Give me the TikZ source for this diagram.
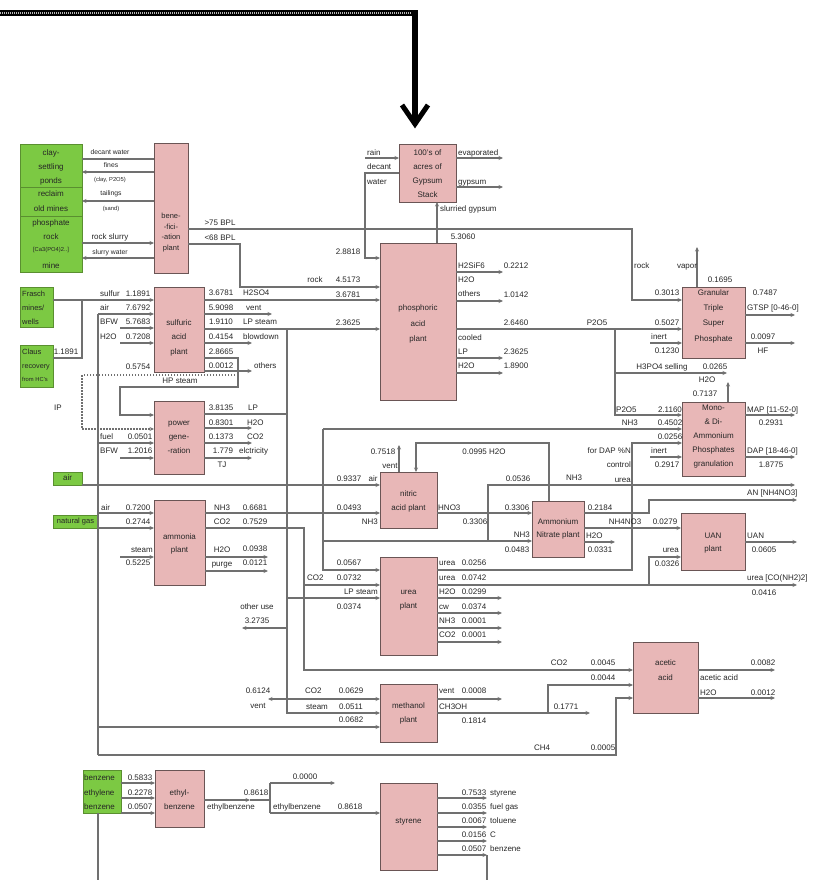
\documentclass[tikz,border=0pt]{standalone}
\usepackage{fontspec}
\setmainfont{Liberation Sans}
\usetikzlibrary{arrows.meta}
\definecolor{pinkf}{HTML}{E8B7B7}
\definecolor{pinkd}{HTML}{6A5555}
\definecolor{greenf}{HTML}{7CC943}
\definecolor{greend}{HTML}{5A8F30}
\definecolor{lineg}{HTML}{707070}
\definecolor{txt}{HTML}{262626}
\newcounter{lbc}
\newcommand\mylab[3][]{\stepcounter{lbc}\node[lb,#1] (lab\thelbc) at (#2) {#3};}
\begin{document}
\begin{tikzpicture}[x=1pt,y=-1pt,
 ln/.style={draw=lineg, line width=1.1pt},
 ar/.style={ln, -{Stealth[length=4.5pt,width=4pt]}},
 dt/.style={draw=lineg, line width=1.1pt, dash pattern=on 1.5pt off 1.5pt},
 lb/.style={inner sep=0pt, text=txt, font=\fontsize{8}{9}\selectfont, text height=5.8pt, text depth=1.6pt},
 sm/.style={font=\fontsize{6.8}{7.5}\selectfont, text height=4.9pt, text depth=1.4pt},
 xs/.style={font=\fontsize{5.8}{6.5}\selectfont, text height=4.2pt, text depth=1.2pt},
 bt/.style={inner sep=0pt, text=txt, align=center, font=\fontsize{8}{#1}\selectfont},
 bt/.default=14,
 pbox/.style={draw=pinkd, fill=pinkf, line width=0.8pt, inner sep=0pt, outer sep=0pt, anchor=north west},
 gbox/.style={draw=greend, fill=greenf, line width=0.6pt, inner sep=0pt, outer sep=0pt, anchor=north west},
]
\path[use as bounding box] (0,0) rectangle (821,880);

% ---------------- boxes ----------------
\node[gbox,minimum width=62,minimum height=43] (clay) at (20,144) {};
\node[gbox,minimum width=62,minimum height=29] (reclaim) at (20,187) {};
\node[gbox,minimum width=62,minimum height=56] (mine) at (20,216) {};
\node[gbox,minimum width=33,minimum height=40] (frasch) at (20,287) {};
\node[gbox,minimum width=33,minimum height=42] (claus) at (20,345) {};
\node[gbox,minimum width=29,minimum height=13] (airg) at (53,472) {};
\node[gbox,minimum width=45,minimum height=13] (natg) at (53,515) {};
\node[gbox,minimum width=38,minimum height=43] (ethg) at (83,770) {};
\node[pbox,minimum width=34,minimum height=130] (bene) at (154,143) {};
\node[pbox,minimum width=50,minimum height=85] (sulf) at (154,287) {};
\node[pbox,minimum width=50,minimum height=73] (power) at (154,401) {};
\node[pbox,minimum width=57,minimum height=58] (gyp) at (399,144) {};
\node[pbox,minimum width=76,minimum height=157] (phos) at (380,243) {};
\node[pbox,minimum width=63,minimum height=71] (gtsp) at (682,287) {};
\node[pbox,minimum width=63,minimum height=74] (mono) at (682,402) {};
\node[pbox,minimum width=51,minimum height=85] (ammonia) at (154,500) {};
\node[pbox,minimum width=57,minimum height=56] (nitric) at (380,472) {};
\node[pbox,minimum width=52,minimum height=56] (an) at (532,501) {};
\node[pbox,minimum width=64,minimum height=57] (uan) at (681,513) {};
\node[pbox,minimum width=57,minimum height=98] (urea) at (380,557) {};
\node[pbox,minimum width=57,minimum height=58] (meth) at (380,684) {};
\node[pbox,minimum width=65,minimum height=71] (acetic) at (633,642) {};
\node[pbox,minimum width=49,minimum height=57] (ethyl) at (155,770) {};
\node[pbox,minimum width=57,minimum height=87] (styr) at (380,783) {};

% ---------------- box texts ----------------
\node[bt] (tclay) at (51,167) {clay-\\settling\\ponds};
\node[bt=15] (trecl) at (51,201.5) {reclaim\\old mines};
\mylab{51,223}{phosphate}
\mylab{51,237}{rock}
\mylab[xs]{51,250}{[Ca3(PO4)2..]}
\mylab{51,266}{mine}
\mylab[anchor=west,font=\fontsize{7.5}{8}\selectfont]{22,294}{Frasch}
\mylab[anchor=west,font=\fontsize{7.5}{8}\selectfont]{22,308}{mines/}
\mylab[anchor=west,font=\fontsize{7.5}{8}\selectfont]{22,322}{wells}
\mylab[anchor=west,font=\fontsize{7.5}{8}\selectfont]{22,352}{Claus}
\mylab[anchor=west,font=\fontsize{7.2}{8}\selectfont]{22,366}{recovery}
\mylab[anchor=west,xs]{22,380}{from HC's}
\mylab{67.5,478.5}{air}
\mylab[font=\fontsize{7.5}{8}\selectfont]{75.5,521.5}{natural gas}
\mylab[anchor=west]{84,778}{benzene}
\mylab[anchor=west]{84,793}{ethylene}
\mylab[anchor=west]{84,807}{benzene}
\node[bt, font=\fontsize{7.5}{10.5}\selectfont] (tbene) at (171,232.5) {bene-\\-fici-\\-ation\\plant};
\node[bt=14.5] (tsulf) at (179,337.5) {sulfuric\\acid\\plant};
\node[bt] (tpower) at (179,437) {power\\gene-\\-ration};
\node[bt] (tgyp) at (427.5,174) {100's of\\acres of\\Gypsum\\Stack};
\node[bt=15.5] (tphos) at (418,324) {phosphoric\\acid\\plant};
\node[bt=15.3] (tgtsp) at (713.5,316) {Granular\\Triple\\Super\\Phosphate};
\node[bt] (tmono) at (713.5,437) {Mono-\\\& Di-\\Ammonium\\Phosphates\\granulation};
\node[bt=13] (tammo) at (179.5,543.5) {ammonia\\plant};
\node[bt] (tnit) at (408.5,501) {nitric\\acid plant};
\node[bt=12.5] (tan) at (558,529) {Ammonium\\Nitrate plant};
\node[bt=13] (tuan) at (713,543.5) {UAN\\plant};
\node[bt] (turea) at (408.5,600) {urea\\plant};
\node[bt] (tmeth) at (408.5,713) {methanol\\plant};
\node[bt=15] (tacet) at (665.5,670.5) {acetic\\acid};
\node[bt] (tethyl) at (179.5,800) {ethyl-\\benzene};
\node[bt] (tstyr) at (408.5,822) {styrene};

% ---------------- connectors ----------------
% beneficiation
\draw[ln] (bene.west |- 0,159) -- (clay.east |- 0,159);
\draw[ar] (bene.west |- 0,172) -- (clay.east |- 0,172);
\draw[ar] (bene.west |- 0,201) -- (reclaim.east |- 0,201);
\draw[ar] (mine.east |- 0,243) -- (bene.west |- 0,243);
\draw[ar] (bene.west |- 0,258) -- (mine.east |- 0,258);
\draw[ar] (bene.east |- 0,229) -- (632,229) -- (632,300) -- (gtsp.west |- 0,300);
\draw[ar] (bene.east |- 0,244) -- (240,244) -- (240,287) -- (phos.west |- 0,287);
% gypsum
\draw[ar] (365,158) -- (gyp.west |- 0,158);
\draw[ar] (gyp.west |- 0,173) -- (365,173) -- (365,258) -- (phos.west |- 0,258);
\draw[ar] (gyp.east |- 0,158) -- (503,158);
\draw[ar] (gyp.east |- 0,187) -- (503,187);
\draw[ar] (phos.north -| 437,0) -- (gyp.south -| 437,0);
% phosphoric outputs
\draw[ar] (phos.east |- 0,272) -- (503,272);
\draw[ar] (phos.east |- 0,301) -- (503,301);
\draw[ar] (phos.east |- 0,329) -- (gtsp.west |- 0,329);
\draw[ar] (phos.east |- 0,358) -- (503,358);
\draw[ar] (phos.east |- 0,373) -- (503,373);
% sulfuric
\draw[ar] (frasch.east |- 0,300) -- (sulf.west |- 0,300);
\draw[ln] (claus.east |- 0,358) -- (82,358) -- (82,300);
\draw[ar] (98,314) -- (sulf.west |- 0,314);
\draw[ar] (120,328) -- (sulf.west |- 0,328);
\draw[ar] (120,343) -- (sulf.west |- 0,343);
\draw[ar] (sulf.east |- 0,300) -- (phos.west |- 0,300);
\draw[ar] (sulf.east |- 0,314) -- (272,314);
\draw[ar] (sulf.east |- 0,329) -- (phos.west |- 0,329);
\draw[ar] (sulf.east |- 0,343) -- (252,343);
\draw[ar] (sulf.east |- 0,358) -- (238,358) -- (238,387) -- (120,387) -- (120,415) -- (power.west |- 0,415);
\draw[ar] (sulf.east |- 0,371) -- (252,371);
\draw[dt, -{Stealth[length=4.5pt,width=4pt]}] (238,375) -- (82,375) -- (82,429) -- (power.west |- 0,429);
% power generation
\draw[ln] (power.east |- 0,414) -- (287,414);
\draw[ar] (power.east |- 0,428) -- (252,428);
\draw[ar] (power.east |- 0,443) -- (252,443);
\draw[ar] (power.east |- 0,458) -- (252,458);
\draw[ar] (98,443) -- (power.west |- 0,443);
\draw[ar] (120,458) -- (power.west |- 0,458);
% long verticals
\draw[ln] (98,314) -- (98,755);
\draw[ar] (287,329) -- (287,713) -- (meth.west |- 0,713);
\draw[ar] (287,628) -- (242,628);
\draw[ar] (287,598) -- (urea.west |- 0,598);
% air, ammonia
\draw[ar] (airg.east |- 0,485) -- (nitric.west |- 0,485);
\draw[ar] (98,513) -- (ammonia.west |- 0,513);
\draw[ar] (natg.east |- 0,528) -- (ammonia.west |- 0,528);
\draw[ar] (120,557) -- (ammonia.west |- 0,557);
\draw[ar] (ammonia.east |- 0,513) -- (nitric.west |- 0,513);
\draw[ar] (ammonia.east |- 0,528) -- (304,528) -- (304,670) -- (acetic.west |- 0,670);
\draw[ar] (ammonia.east |- 0,557) -- (268,557);
\draw[ar] (ammonia.east |- 0,571) -- (268,571);
\draw[ar] (304,585) -- (urea.west |- 0,585);
\draw[ar] (304,699) -- (meth.west |- 0,699);
\draw[ar] (304,699) -- (268,699);
\draw[ar] (98,727) -- (meth.west |- 0,727);
% NH3 distribution
\draw[ar] (323,429) -- (323,570) -- (urea.west |- 0,570);
\draw[ar] (323,429) -- (mono.west |- 0,429);
\draw[ar] (323,541) -- (an.west |- 0,541);
% nitric acid
\draw[ar] (nitric.north -| 399,0) -- (399,445);
\draw[ar] (an.north -| 549,0) -- (549,443) -- (416,443) -- (nitric.north -| 416,0);
\draw[ar] (nitric.east |- 0,513) -- (an.west |- 0,513);
\draw[ar] (488,541) -- (488,485) -- (795,485);
% ammonium nitrate, UAN
\draw[ar] (an.east |- 0,513) -- (649,513) -- (649,500) -- (797,500);
\draw[ar] (an.east |- 0,528) -- (uan.west |- 0,528);
\draw[ar] (an.east |- 0,542) -- (615,542);
\draw[ar] (urea.east |- 0,585) -- (797,585);
\draw[ar] (649,585) -- (649,557) -- (uan.west |- 0,557);
\draw[ar] (uan.east |- 0,542) -- (797,542);
\draw[ar] (urea.east |- 0,570) -- (632,570) -- (632,443) -- (mono.west |- 0,443);
% mono/di ammonium phosphates
\draw[ar] (615,329) -- (615,415) -- (mono.west |- 0,415);
\draw[ar] (615,373) -- (727,373);
\draw[ar] (mono.north -| 728,0) -- (728,382);
\draw[ar] (650,457) -- (mono.west |- 0,457);
\draw[ar] (mono.east |- 0,415) -- (795,415);
\draw[ar] (mono.east |- 0,457) -- (795,457);
% GTSP
\draw[ar] (gtsp.north -| 697,0) -- (697,247);
\draw[ar] (650,343) -- (gtsp.west |- 0,343);
\draw[ar] (gtsp.east |- 0,315) -- (795,315);
\draw[ar] (gtsp.east |- 0,343) -- (795,343);
% urea outputs
\foreach \yy in {598,613,628,642} \draw[ar] (urea.east |- 0,\yy) -- (502,\yy);
% methanol, acetic
\draw[ar] (meth.east |- 0,699) -- (502,699);
\draw[ar] (meth.east |- 0,713) -- (590,713);
\draw[ar] (548,713) -- (548,685) -- (acetic.west |- 0,685);
\draw[ar] (98,755) -- (616,755) -- (616,698) -- (acetic.west |- 0,698);
\draw[ar] (acetic.east |- 0,670) -- (775,670);
\draw[ar] (acetic.east |- 0,698) -- (775,698);
% ethylbenzene, styrene
\foreach \yy in {783,798,813} \draw[ar] (ethg.east |- 0,\yy) -- (ethyl.west |- 0,\yy);
\draw[ln] (98,813) -- (98,880);
\draw[ar] (ethyl.east |- 0,800) -- (250,800);
\draw[ln] (250,800) -- (270,800);
\draw[ln] (270,783) -- (270,813);
\draw[ar] (270,783) -- (335,783);
\draw[ar] (270,813) -- (styr.west |- 0,813);
\foreach \yy in {798,813,827,841,855} \draw[ar] (styr.east |- 0,\yy) -- (487,\yy);
\draw[ln] (487,855) -- (487,880);

% big top arrow
\coordinate (topstart) at (0,13);
\draw[line width=5.5pt, line join=miter] (topstart) -- (415,13) -- (415,122);
\draw[gray!55, line width=1.6pt, dash pattern=on 1pt off 1pt] (topstart) -- (411,13);
\draw[line width=5pt, line join=miter] (402,105) -- (415,124) -- (428,105);

% ---------------- labels ----------------
% beneficiation
\mylab[sm]{110,153}{decant water}
\mylab[sm]{111,166}{fines}
\mylab[xs]{110,180}{(clay, P2O5)}
\mylab[sm]{111,194}{tailings}
\mylab[xs]{111,209}{(sand)}
\mylab{110,237}{rock slurry}
\mylab[sm]{110,253}{slurry water}
\mylab{220,223}{>75 BPL}
\mylab{220,238}{<68 BPL}
% phosphoric inputs
\mylab{315,280}{rock}
\mylab{348,280}{4.5173}
\mylab{348,295}{3.6781}
\mylab{348,323}{2.3625}
\mylab{348,252}{2.8818}
% gypsum
\mylab[anchor=west]{367,153}{rain}
\mylab[anchor=west]{367,167}{decant}
\mylab[anchor=west]{367,182}{water}
\mylab[anchor=west]{458,153}{evaporated}
\mylab[anchor=west]{458,182}{gypsum}
\mylab[anchor=west]{440,209}{slurried gypsum}
\mylab{463,237}{5.3060}
% phosphoric outputs
\mylab[anchor=west]{458,266}{H2SiF6}
\mylab{516,266}{0.2212}
\mylab[anchor=west]{458,280}{H2O}
\mylab[anchor=west]{458,294}{others}
\mylab{516,295}{1.0142}
\mylab{516,323}{2.6460}
\mylab[anchor=west]{458,338}{cooled}
\mylab[anchor=west]{458,352}{LP}
\mylab{516,352}{2.3625}
\mylab[anchor=west]{458,366}{H2O}
\mylab{516,366}{1.8900}
% sulfuric
\mylab[anchor=west]{100,294}{sulfur}
\mylab{138,294}{1.1891}
\mylab[anchor=west]{100,308}{air}
\mylab{138,308}{7.6792}
\mylab[anchor=west]{100,322}{BFW}
\mylab{138,322}{5.7683}
\mylab[anchor=west]{100,337}{H2O}
\mylab{138,337}{0.7208}
\mylab{138,367}{0.5754}
\mylab{66,352}{1.1891}
\mylab{221,293}{3.6781}
\mylab[anchor=west]{243,293}{H2SO4}
\mylab{221,308}{5.9098}
\mylab[anchor=west]{246,308}{vent}
\mylab{221,322}{1.9110}
\mylab[anchor=west]{243,322}{LP steam}
\mylab{221,337}{0.4154}
\mylab[anchor=west]{243,337}{blowdown}
\mylab{221,352}{2.8665}
\mylab{221,366}{0.0012}
\mylab[anchor=west]{254,366}{others}
\mylab{180,381}{HP steam}
\mylab{58,408}{IP}
% power generation
\mylab{221,408}{3.8135}
\mylab[anchor=west]{248,408}{LP}
\mylab{221,423}{0.8301}
\mylab[anchor=west]{247,423}{H2O}
\mylab{221,437}{0.1373}
\mylab[anchor=west]{247,437}{CO2}
\mylab{223,451}{1.779}
\mylab[anchor=west]{239,451}{elctricity}
\mylab{222,465}{TJ}
\mylab[anchor=west]{100,437}{fuel}
\mylab{140,437}{0.0501}
\mylab[anchor=west]{100,451}{BFW}
\mylab{140,451}{1.2016}
% ammonia
\mylab[anchor=west]{101,508}{air}
\mylab{138,508}{0.7200}
\mylab{138,522}{0.2744}
\mylab[anchor=east]{153,550}{steam}
\mylab{138,563}{0.5225}
\mylab{222,508}{NH3}
\mylab{255,508}{0.6681}
\mylab{222,522}{CO2}
\mylab{255,522}{0.7529}
\mylab{222,550}{H2O}
\mylab{255,549}{0.0938}
\mylab{222,564}{purge}
\mylab{255,563}{0.0121}
\mylab{257,607}{other use}
\mylab{257,621}{3.2735}
% nitric acid, ammonium nitrate
\mylab{349,479}{0.9337}
\mylab{373,479}{air}
\mylab{349,508}{0.0493}
\mylab[anchor=east]{378,522}{NH3}
\mylab{383,452}{0.7518}
\mylab{390,466}{vent}
\mylab{484,452}{0.0995 H2O}
\mylab[anchor=west]{438,508}{HNO3}
\mylab{475,522}{0.3306}
\mylab{517,508}{0.3306}
\mylab{518,479}{0.0536}
\mylab{574,478}{NH3}
\mylab[anchor=east]{530,535}{NH3}
\mylab{517,550}{0.0483}
\mylab{600,508}{0.2184}
\mylab{625,522}{NH4NO3}
\mylab{665,522}{0.0279}
\mylab[anchor=west]{586,536}{H2O}
\mylab{600,550}{0.0331}
\mylab[anchor=east]{679,550}{urea}
\mylab{667,564}{0.0326}
\mylab[anchor=west]{747,536}{UAN}
\mylab{764,550}{0.0605}
\mylab[anchor=west]{747,578}{urea [CO(NH2)2]}
\mylab{764,593}{0.0416}
\mylab[anchor=west]{747,493}{AN [NH4NO3]}
% mono/di ammonium phosphates
\mylab[anchor=west]{616,410}{P2O5}
\mylab{670,410}{2.1160}
\mylab[anchor=east]{638,423}{NH3}
\mylab{670,423}{0.4502}
\mylab{670,437}{0.0256}
\mylab[anchor=east]{631,451}{for DAP \%N}
\mylab[anchor=east]{631,465}{control}
\mylab[anchor=east]{631,480}{urea}
\mylab{659,451}{inert}
\mylab{667,465}{0.2917}
\mylab[anchor=west]{747,410}{MAP [11-52-0]}
\mylab{771,423}{0.2931}
\mylab[anchor=west]{747,451}{DAP [18-46-0]}
\mylab{771,465}{1.8775}
\mylab{707,380}{H2O}
\mylab{705,394}{0.7137}
\mylab{662,367}{H3PO4 selling}
\mylab{715,367}{0.0265}
% GTSP
\mylab[anchor=west]{634,266}{rock}
\mylab{687,266}{vapor}
\mylab{720,280}{0.1695}
\mylab{667,293}{0.3013}
\mylab{597,323}{P2O5}
\mylab{667,323}{0.5027}
\mylab{659,337}{inert}
\mylab{667,351}{0.1230}
\mylab{765,293}{0.7487}
\mylab[anchor=west]{747,308}{GTSP [0-46-0]}
\mylab{763,337}{0.0097}
\mylab{763,351}{HF}
% urea
\mylab{349,563}{0.0567}
\mylab[anchor=west]{307,578}{CO2}
\mylab{349,578}{0.0732}
\mylab[anchor=east]{378,592}{LP steam}
\mylab{349,607}{0.0374}
\mylab[anchor=west]{439,563}{urea}
\mylab{474,563}{0.0256}
\mylab[anchor=west]{439,578}{urea}
\mylab{474,578}{0.0742}
\mylab[anchor=west]{439,592}{H2O}
\mylab{474,592}{0.0299}
\mylab[anchor=west]{439,607}{cw}
\mylab{474,607}{0.0374}
\mylab[anchor=west]{439,621}{NH3}
\mylab{474,621}{0.0001}
\mylab[anchor=west]{439,635}{CO2}
\mylab{474,635}{0.0001}
% methanol
\mylab{258,691}{0.6124}
\mylab{258,706}{vent}
\mylab[anchor=west]{305,691}{CO2}
\mylab{351,691}{0.0629}
\mylab{317,707}{steam}
\mylab{351,707}{0.0511}
\mylab{351,720}{0.0682}
\mylab[anchor=west]{439,691}{vent}
\mylab{474,691}{0.0008}
\mylab[anchor=west]{439,707}{CH3OH}
\mylab{474,721}{0.1814}
% acetic acid
\mylab{559,663}{CO2}
\mylab{603,663}{0.0045}
\mylab{603,678}{0.0044}
\mylab{566,707}{0.1771}
\mylab{542,748}{CH4}
\mylab{603,748}{0.0005}
\mylab{763,663}{0.0082}
\mylab[anchor=west]{700,678}{acetic acid}
\mylab[anchor=west]{700,693}{H2O}
\mylab{763,693}{0.0012}
% ethylbenzene, styrene
\mylab{140,778}{0.5833}
\mylab{140,793}{0.2278}
\mylab{140,807}{0.0507}
\mylab{231,807}{ethylbenzene}
\mylab{256,793}{0.8618}
\mylab{305,777}{0.0000}
\mylab{297,807}{ethylbenzene}
\mylab{350,807}{0.8618}
\mylab{474,793}{0.7533}
\mylab[anchor=west]{490,793}{styrene}
\mylab{474,807}{0.0355}
\mylab[anchor=west]{490,807}{fuel gas}
\mylab{474,821}{0.0067}
\mylab[anchor=west]{490,821}{toluene}
\mylab{474,835}{0.0156}
\mylab[anchor=west]{490,835}{C}
\mylab{474,849}{0.0507}
\mylab[anchor=west]{490,849}{benzene}
\end{tikzpicture}
\end{document}
